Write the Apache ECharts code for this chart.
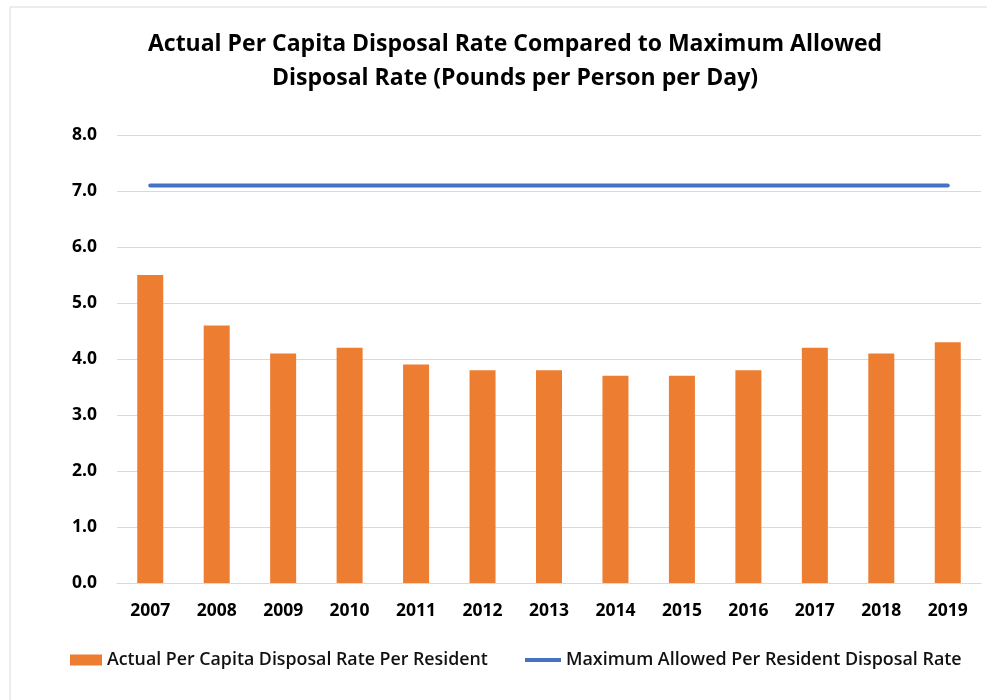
<!DOCTYPE html>
<html><head><meta charset="utf-8">
<script src="https://cdn.jsdelivr.net/npm/echarts@6/dist/echarts.min.js"></script>
<style>html,body{margin:0;padding:0;background:#fff}#c{width:987px;height:700px}</style>
</head><body><div id="c"></div>
<script>
const categories = ['2007','2008','2009','2010','2011','2012','2013','2014','2015','2016','2017','2018','2019'];
const actualRate = [5.5, 4.6, 4.1, 4.2, 3.9, 3.8, 3.8, 3.7, 3.7, 3.8, 4.2, 4.1, 4.3];
const maxAllowed = [7.1, 7.1, 7.1, 7.1, 7.1, 7.1, 7.1, 7.1, 7.1, 7.1, 7.1, 7.1, 7.1];
const titleText = 'Actual Per Capita Disposal Rate Compared to Maximum Allowed\nDisposal Rate (Pounds per Person per Day)';
const barName = 'Actual Per Capita Disposal Rate Per Resident';
const lineName = 'Maximum Allowed Per Resident Disposal Rate';

const font = 'Open Sans';
const chart = echarts.init(document.getElementById('c'), null, {renderer:'canvas'});
chart.setOption({
  animation: false,
  backgroundColor: '#fff',
  graphic: [{type:'rect', shape:{x:10, y:7, width:990, height:700}, style:{fill:'none', stroke:'#d9d9d9', lineWidth:1}, z:-1}],
  title: {
    text: titleText, left: 510, top: 22, textAlign: 'center',
    textStyle: {fontFamily: font, fontWeight: 'bold', fontSize: 23, color: '#000', lineHeight: 34}
  },
  legend: [
    {data:[barName], left: 70, top: 651, itemWidth: 32, itemHeight: 11, icon:'rect', padding:0, itemGap:6,
     textStyle:{fontFamily:font, fontSize:17.8, color:'#111', fontWeight:600}},
    {data:[lineName], left: 525, top: 651, itemWidth: 36, itemHeight: 4, icon:'rect', padding:0,
     textStyle:{fontFamily:font, fontSize:17.9, color:'#111', fontWeight:600}}
  ],
  grid: {left: 117, right: 6, top: 135, bottom: 117, containLabel: false},
  xAxis: {
    type: 'category', data: categories,
    axisLine: {lineStyle:{color:'#d9d9d9'}}, axisTick:{show:false},
    axisLabel: {fontFamily:font, fontWeight:'bold', fontSize:17.5, color:'#000', margin:19}
  },
  yAxis: {
    type: 'value', min: 0, max: 8, interval: 1,
    axisLine:{show:false}, axisTick:{show:false},
    splitLine:{lineStyle:{color:'#d9d9d9'}},
    axisLabel:{fontFamily:font, fontWeight:'bold', fontSize:17.5, color:'#000', margin:20, formatter: v => v.toFixed(1)}
  },
  series: [
    {name: barName, type:'bar', data: actualRate, barWidth: 26, itemStyle:{color:'#ED7D31'}},
    {name: lineName, type:'line', data: maxAllowed, symbol:'none', lineStyle:{color:'#4472C4', width:4, cap:'round'}, itemStyle:{color:'#4472C4'}}
  ]
});
</script></body></html>
